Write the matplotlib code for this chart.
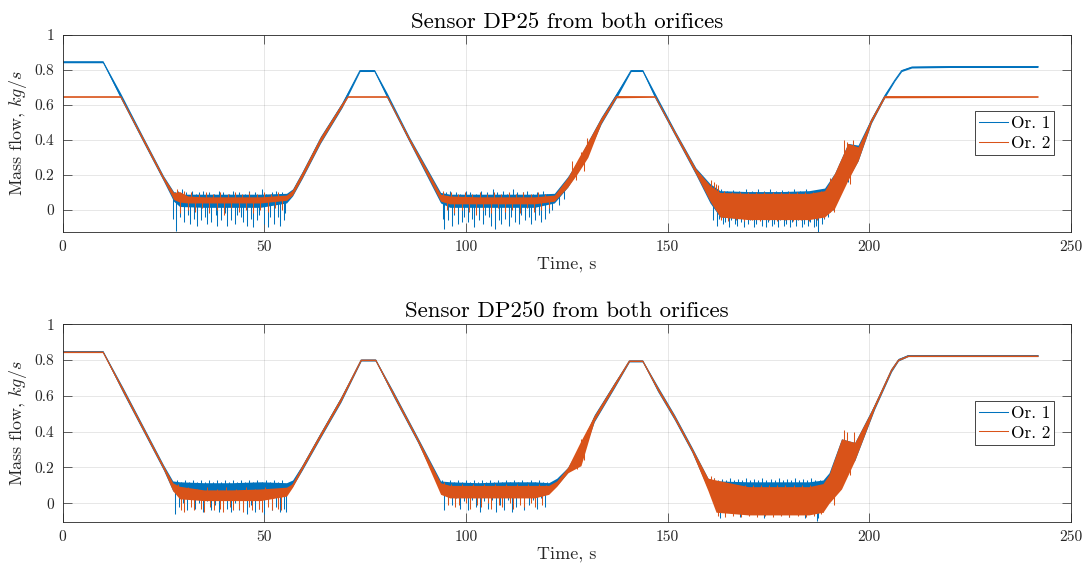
import matplotlib
matplotlib.use("Agg")
import matplotlib.pyplot as plt
import numpy as np

# ---------------- data ----------------
# each series: knot times, centre value, lower / upper edge of the noise band
# top panel: sensor DP25
dp25_or1_t = [0, 10, 14.4, 20, 25, 27.5, 29, 35, 42, 49, 55.5, 57, 59.4, 63.9, 69.3, 73.7, 77.3, 80.5, 86, 93.7,
              96, 103, 110, 117, 121.9, 125.2, 127.7, 130.2, 133.5, 137.2, 140.9, 143.8, 146.9, 152, 157, 160.5,
              163, 170, 178, 185, 188.9, 191.4, 194.7, 197.2, 200.5, 203.8, 206.3, 208, 210.5, 220, 230, 241.8]
dp25_or1_c = [0.845, 0.845, 0.65, 0.40, 0.18, 0.08, 0.06, 0.05, 0.05, 0.05, 0.07, 0.10, 0.20, 0.40, 0.60, 0.795,
              0.795, 0.65, 0.40, 0.07, 0.05, 0.05, 0.05, 0.05, 0.07, 0.16, 0.25, 0.36, 0.51, 0.65, 0.795, 0.795,
              0.65, 0.43, 0.22, 0.09, 0.05, 0.04, 0.04, 0.04, 0.06, 0.12, 0.28, 0.33, 0.51, 0.65, 0.74, 0.795,
              0.815, 0.818, 0.818, 0.818]
dp25_or1_lo = [0.84, 0.84, 0.635, 0.385, 0.165, 0.05, 0.02, 0.015, 0.015, 0.015, 0.04, 0.08, 0.18, 0.38, 0.585,
               0.79, 0.79, 0.635, 0.385, 0.04, 0.015, 0.015, 0.015, 0.015, 0.04, 0.13, 0.22, 0.32, 0.49, 0.635,
               0.79, 0.79, 0.635, 0.415, 0.20, 0.04, -0.04, -0.05, -0.05, -0.05, -0.03, 0.03, 0.18, 0.28, 0.495,
               0.64, 0.735, 0.79, 0.81, 0.813, 0.813, 0.813]
dp25_or1_hi = [0.85, 0.85, 0.665, 0.415, 0.195, 0.105, 0.09, 0.09, 0.09, 0.09, 0.095, 0.12, 0.22, 0.42, 0.615,
               0.80, 0.80, 0.665, 0.415, 0.10, 0.09, 0.09, 0.09, 0.09, 0.095, 0.19, 0.28, 0.39, 0.53, 0.665,
               0.80, 0.80, 0.665, 0.445, 0.24, 0.15, 0.11, 0.105, 0.105, 0.11, 0.125, 0.21, 0.38, 0.37, 0.525,
               0.66, 0.745, 0.80, 0.82, 0.823, 0.823, 0.823]

dp25_or2_t = [0, 14.4, 20, 25, 27.5, 29, 31, 35, 42, 49, 55.5, 57, 59.4, 63.9, 69.3, 70.7, 80.5, 86, 93.7, 96,
              103, 110, 117, 121.9, 125.2, 127.7, 130.2, 133.5, 137.2, 146.9, 152, 157, 160.5, 163, 170, 178, 185,
              188.9, 191.4, 194.7, 197.2, 200.5, 203.8, 241.8]
dp25_or2_c = [0.646, 0.646, 0.40, 0.18, 0.08, 0.07, 0.06, 0.055, 0.055, 0.055, 0.07, 0.10, 0.20, 0.40, 0.60, 0.646,
              0.646, 0.40, 0.07, 0.055, 0.055, 0.055, 0.055, 0.07, 0.16, 0.25, 0.36, 0.51, 0.646, 0.646, 0.43,
              0.22, 0.09, 0.04, 0.02, 0.02, 0.02, 0.05, 0.12, 0.28, 0.32, 0.51, 0.646, 0.646]
dp25_or2_lo = [0.643, 0.643, 0.39, 0.17, 0.06, 0.045, 0.04, 0.04, 0.04, 0.04, 0.055, 0.085, 0.185, 0.385, 0.59,
               0.643, 0.643, 0.39, 0.05, 0.035, 0.035, 0.035, 0.035, 0.05, 0.13, 0.21, 0.30, 0.495, 0.640, 0.643,
               0.42, 0.205, 0.05, -0.04, -0.055, -0.055, -0.055, -0.04, 0.01, 0.17, 0.28, 0.50, 0.640, 0.643]
dp25_or2_hi = [0.649, 0.649, 0.41, 0.19, 0.10, 0.105, 0.08, 0.075, 0.075, 0.075, 0.085, 0.115, 0.215, 0.415, 0.61,
               0.649, 0.649, 0.41, 0.09, 0.08, 0.075, 0.075, 0.075, 0.085, 0.185, 0.29, 0.39, 0.525, 0.652, 0.649,
               0.44, 0.235, 0.14, 0.10, 0.095, 0.095, 0.095, 0.11, 0.21, 0.38, 0.36, 0.52, 0.652, 0.649]

# bottom panel: sensor DP250 (both orifices share the knot times)
dp250_t = [0, 10, 15, 20, 25, 27.3, 29, 35, 42, 49, 55.5, 57, 59.4, 63.9, 69, 74, 77.6, 82, 88, 93.7, 96, 103,
           110, 117, 120.5, 122.5, 125.2, 128.5, 131.8, 136.8, 140.5, 143.8, 147.5, 151.7, 156, 160, 162, 170,
           178, 185, 188.5, 190, 193.1, 196.4, 201.3, 205.5, 207.2, 209.6, 220, 230, 241.8]
dp250_or1_c = [0.847, 0.847, 0.63, 0.415, 0.20, 0.10, 0.08, 0.075, 0.075, 0.075, 0.085, 0.11, 0.20, 0.38, 0.58,
               0.80, 0.80, 0.61, 0.355, 0.10, 0.085, 0.085, 0.085, 0.085, 0.09, 0.12, 0.186, 0.29, 0.475, 0.66,
               0.795, 0.795, 0.64, 0.48, 0.30, 0.12, 0.085, 0.07, 0.07, 0.07, 0.08, 0.11, 0.22, 0.29, 0.54, 0.745,
               0.80, 0.825, 0.825, 0.825, 0.825]
dp250_or1_lo = [0.843, 0.843, 0.615, 0.40, 0.185, 0.07, 0.045, 0.045, 0.045, 0.045, 0.06, 0.095, 0.185, 0.365,
                0.565, 0.795, 0.795, 0.595, 0.34, 0.07, 0.06, 0.06, 0.06, 0.06, 0.065, 0.10, 0.17, 0.25, 0.455,
                0.645, 0.79, 0.79, 0.625, 0.465, 0.285, 0.08, 0.04, 0.03, 0.03, 0.03, 0.0, 0.05, 0.15, 0.24,
                0.525, 0.735, 0.795, 0.82, 0.82, 0.82, 0.82]
dp250_or1_hi = [0.852, 0.852, 0.645, 0.43, 0.215, 0.125, 0.12, 0.115, 0.115, 0.12, 0.115, 0.13, 0.215, 0.395,
                0.595, 0.805, 0.805, 0.625, 0.37, 0.125, 0.12, 0.115, 0.12, 0.12, 0.115, 0.14, 0.20, 0.33, 0.495,
                0.675, 0.80, 0.80, 0.655, 0.495, 0.315, 0.14, 0.125, 0.12, 0.12, 0.12, 0.13, 0.17, 0.36, 0.34,
                0.555, 0.755, 0.81, 0.83, 0.83, 0.83, 0.83]
dp250_or2_c = [0.845, 0.845, 0.63, 0.415, 0.20, 0.10, 0.06, 0.045, 0.045, 0.045, 0.07, 0.10, 0.20, 0.38, 0.58,
               0.80, 0.80, 0.61, 0.355, 0.09, 0.06, 0.06, 0.06, 0.06, 0.075, 0.11, 0.186, 0.27, 0.475, 0.66,
               0.795, 0.795, 0.64, 0.48, 0.30, 0.10, 0.04, 0.015, 0.015, 0.015, 0.04, 0.08, 0.22, 0.29, 0.54, 0.745,
               0.80, 0.823, 0.823, 0.823, 0.823]
dp250_or2_lo = [0.842, 0.842, 0.62, 0.405, 0.19, 0.07, 0.025, 0.015, 0.015, 0.015, 0.04, 0.09, 0.19, 0.37, 0.57,
                0.797, 0.797, 0.60, 0.345, 0.05, 0.03, 0.03, 0.03, 0.03, 0.05, 0.095, 0.17, 0.21, 0.46, 0.65,
                0.792, 0.792, 0.63, 0.47, 0.29, 0.07, -0.05, -0.065, -0.065, -0.065, -0.05, 0.0, 0.08, 0.24,
                0.53, 0.74, 0.797, 0.82, 0.82, 0.82, 0.82]
dp250_or2_hi = [0.848, 0.848, 0.64, 0.425, 0.21, 0.115, 0.095, 0.075, 0.075, 0.08, 0.09, 0.11, 0.21, 0.39, 0.59,
                0.803, 0.803, 0.62, 0.365, 0.115, 0.10, 0.10, 0.10, 0.10, 0.10, 0.125, 0.20, 0.35, 0.49, 0.67,
                0.798, 0.798, 0.65, 0.49, 0.31, 0.14, 0.13, 0.093, 0.093, 0.093, 0.11, 0.16, 0.36, 0.34, 0.55,
                0.75, 0.803, 0.826, 0.826, 0.826, 0.826]

# visible spikes poking out of the noise bands: (time, tip value)
dp25_or1_spikes = [
    (27.3, -0.05), (27.8, 0.10), (28.1, -0.12), (28.6, 0.11), (29.0, -0.04), (29.5, 0.12), (30.0, -0.07),
    (30.6, 0.10), (31.1, -0.03), (31.5, -0.08), (32.0, 0.11), (32.5, -0.05), (33.0, 0.09), (33.4, -0.09),
    (33.9, 0.10), (34.4, -0.06), (34.9, 0.11), (35.4, -0.04), (35.9, -0.08), (36.4, 0.10), (36.9, -0.07),
    (37.4, 0.09), (37.9, -0.03), (38.3, -0.09), (38.8, 0.11), (39.3, -0.06), (39.8, 0.10), (40.3, -0.02),
    (40.8, -0.09), (41.3, 0.09), (41.8, -0.06), (42.3, 0.11), (42.8, -0.08), (43.3, -0.03), (43.8, 0.10),
    (44.3, -0.04), (44.8, -0.07), (45.3, 0.09), (45.8, -0.09), (46.3, 0.11), (46.8, -0.05), (47.3, -0.10),
    (47.8, 0.10), (48.3, -0.06), (48.8, -0.03), (49.3, 0.12), (49.8, -0.08), (50.3, 0.09), (50.8, -0.10),
    (51.3, -0.04), (51.8, 0.10), (52.3, -0.08), (52.8, 0.11), (53.3, -0.04), (53.8, -0.09), (54.3, 0.10),
    (54.8, -0.06), (55.2, -0.02),
    (94.2, -0.05), (94.6, -0.11), (95.1, 0.10), (95.6, -0.06), (96.1, 0.11), (96.6, -0.09), (97.1, -0.03),
    (97.6, 0.10), (98.1, -0.08), (98.6, 0.09), (99.1, -0.07), (99.6, -0.04), (100.1, 0.11), (100.6, -0.07),
    (101.1, 0.10), (101.6, -0.05), (102.1, -0.10), (102.6, 0.09), (103.1, -0.06), (103.6, 0.11),
    (104.1, -0.08), (104.6, -0.03), (105.1, 0.10), (105.6, -0.04), (106.1, -0.09), (106.6, 0.12),
    (107.1, -0.11), (107.6, 0.10), (108.1, -0.06), (108.6, -0.08), (109.1, 0.11), (109.6, -0.05),
    (110.1, 0.09), (110.6, -0.09), (111.1, -0.04), (111.6, 0.12), (112.1, -0.07), (112.6, 0.10),
    (113.1, -0.08), (113.6, -0.03), (114.1, 0.10), (114.6, -0.06), (115.1, 0.11), (115.6, -0.04),
    (116.1, -0.08), (116.6, 0.09), (117.1, -0.06), (117.6, 0.10), (118.1, -0.03), (118.6, -0.07),
    (119.1, 0.11), (119.6, -0.05), (120.1, 0.09), (120.6, -0.02), (121.3, 0.0), (123.0, 0.03), (124.2, 0.06),
    (161.3, -0.06), (161.8, 0.12), (162.3, -0.09), (162.8, -0.05), (163.3, 0.12), (163.8, -0.08),
    (164.3, -0.07), (164.8, 0.11), (165.3, -0.10), (165.8, -0.06), (166.3, 0.115), (166.8, -0.08),
    (167.3, -0.09), (167.8, 0.11), (168.3, -0.07), (168.8, -0.10), (169.3, 0.12), (169.8, -0.08),
    (170.3, -0.06), (170.8, 0.11), (171.3, -0.10), (171.8, -0.08), (172.3, 0.12), (172.8, -0.06),
    (173.3, -0.09), (173.8, 0.11), (174.3, -0.10), (174.8, -0.07), (175.3, 0.12), (175.8, -0.09),
    (176.3, -0.08), (176.8, 0.11), (177.3, -0.10), (177.8, -0.06), (178.3, 0.115), (178.8, -0.09),
    (179.3, -0.08), (179.8, 0.11), (180.3, -0.10), (180.8, -0.07), (181.3, 0.12), (181.8, -0.09),
    (182.3, -0.06), (182.8, 0.11), (183.3, -0.10), (183.8, -0.08), (184.3, 0.12), (184.8, -0.09),
    (185.3, -0.07), (185.8, 0.11), (186.3, -0.10), (186.8, -0.09), (187.2, -0.124), (187.7, 0.11),
    (188.2, -0.08), (188.7, -0.05), (189.2, 0.13), (189.7, -0.04), (190.3, -0.01), (191.0, 0.0),
    (192.2, 0.07), (193.0, 0.10), (194.6, 0.16)]
dp25_or2_spikes = [
    (28.3, 0.12), (29.2, -0.02), (30.1, 0.11), (31.0, 0.0), (31.9, 0.10), (32.8, -0.01), (33.7, 0.09),
    (34.6, 0.01), (35.5, 0.10), (36.4, -0.02), (37.3, 0.09), (38.2, 0.0), (39.1, 0.10), (40.0, -0.03),
    (40.9, 0.09), (41.8, 0.01), (42.7, 0.10), (43.6, -0.01), (44.5, 0.09), (45.4, 0.0), (46.3, 0.10),
    (47.2, -0.02), (48.1, 0.09), (49.0, 0.0), (49.9, 0.10), (50.8, -0.01), (51.7, 0.09), (52.6, 0.01),
    (53.5, 0.10), (54.4, 0.0),
    (94.4, 0.11), (95.3, 0.0), (96.2, 0.10), (97.1, -0.02), (98.0, 0.09), (98.9, 0.0), (99.8, 0.10),
    (100.7, -0.01), (101.6, 0.09), (102.5, -0.03), (103.4, 0.10), (104.3, 0.0), (105.2, 0.09),
    (106.1, -0.02), (107.0, 0.10), (107.9, 0.01), (108.8, 0.09), (109.7, -0.01), (110.6, 0.10),
    (111.5, 0.0), (112.4, 0.09), (113.3, -0.02), (114.2, 0.10), (115.1, 0.01), (116.0, 0.09),
    (116.9, -0.01), (117.8, 0.10), (118.7, 0.0), (119.6, 0.09), (120.5, 0.01),
    (126.4, 0.28), (127.3, 0.17), (128.4, 0.33), (129.3, 0.22), (130.0, 0.41),
    (160.8, 0.17), (161.4, 0.16), (162.0, 0.15), (162.6, 0.14), (163.2, -0.06), (164.0, 0.11),
    (165.0, -0.065), (166.0, 0.10), (167.0, -0.06), (168.0, 0.105), (169.0, -0.065), (170.0, 0.10),
    (171.0, -0.06), (172.0, 0.105), (173.0, -0.065), (174.0, 0.10), (175.0, -0.06), (176.0, 0.105),
    (177.0, -0.065), (178.0, 0.10), (179.0, -0.06), (180.0, 0.105), (181.0, -0.065), (182.0, 0.10),
    (183.0, -0.06), (184.0, 0.105), (185.0, -0.065), (186.0, 0.10), (187.0, -0.06), (188.0, 0.11),
    (188.8, -0.045), (190.2, 0.18), (191.2, -0.01), (192.5, 0.26), (193.8, 0.40), (194.4, 0.39),
    (195.2, 0.15), (196.0, 0.40)]
dp250_or1_spikes = [
    (27.8, -0.06), (28.3, 0.13), (28.8, -0.02), (29.3, 0.12), (29.8, 0.0), (30.3, 0.13), (30.8, -0.04),
    (31.3, 0.12), (31.8, 0.01), (32.3, 0.13), (32.8, -0.03), (33.3, 0.12), (33.8, 0.0), (34.3, 0.13),
    (34.8, -0.05), (35.3, 0.12), (35.8, 0.01), (36.3, 0.13), (36.8, -0.04), (37.3, 0.12), (37.8, -0.01),
    (38.3, 0.13), (38.8, -0.05), (39.3, 0.12), (39.8, 0.0), (40.3, 0.13), (40.8, -0.03), (41.3, 0.12),
    (41.8, -0.05), (42.3, 0.13), (42.8, 0.0), (43.3, 0.12), (43.8, -0.04), (44.3, 0.13), (44.8, -0.02),
    (45.3, 0.12), (45.8, -0.06), (46.3, 0.13), (46.8, -0.01), (47.3, 0.12), (47.8, -0.05), (48.3, 0.13),
    (48.8, -0.03), (49.3, 0.12), (49.8, -0.06), (50.3, 0.13), (50.8, 0.0), (51.3, 0.12), (51.8, -0.04),
    (52.3, 0.13), (52.8, -0.02), (53.3, 0.12), (53.8, -0.05), (54.3, 0.13), (54.8, -0.03), (55.3, -0.05),
    (94.0, 0.13), (94.5, -0.04), (95.0, 0.12), (95.5, 0.02), (96.0, 0.13), (96.5, -0.01), (97.0, 0.12),
    (97.5, 0.03), (98.0, 0.13), (98.5, -0.03), (99.0, 0.12), (99.5, 0.01), (100.0, 0.13), (100.5, -0.04),
    (101.0, 0.12), (101.5, 0.02), (102.0, 0.13), (102.5, -0.02), (103.0, 0.12), (103.5, -0.05),
    (104.0, 0.13), (104.5, 0.01), (105.0, 0.12), (105.5, -0.03), (106.0, 0.13), (106.5, 0.02),
    (107.0, 0.12), (107.5, -0.05), (108.0, 0.13), (108.5, -0.01), (109.0, 0.12), (109.5, -0.04),
    (110.0, 0.13), (110.5, 0.02), (111.0, 0.12), (111.5, -0.05), (112.0, 0.13), (112.5, -0.02),
    (113.0, 0.12), (113.5, 0.01), (114.0, 0.13), (114.5, -0.04), (115.0, 0.12), (115.5, -0.01),
    (116.0, 0.13), (116.5, 0.02), (117.0, 0.12), (117.5, -0.03), (118.0, 0.13), (118.5, 0.03),
    (119.0, 0.12), (119.5, -0.02), (120.0, 0.12),
    (161.5, 0.14), (162.5, 0.13), (163.5, 0.135), (164.5, 0.13), (165.5, 0.14), (166.5, 0.13),
    (167.5, 0.135), (168.5, 0.13), (169.5, 0.14), (170.5, 0.13), (171.5, 0.135), (172.5, 0.13),
    (173.5, 0.14), (174.5, 0.13), (175.5, 0.135), (176.5, 0.13), (177.5, 0.14), (178.5, 0.13),
    (179.5, 0.135), (180.5, 0.13), (181.5, 0.14), (182.5, 0.13), (183.5, 0.135), (184.5, 0.13),
    (185.5, 0.14), (186.5, 0.13), (186.9, -0.10), (187.3, -0.08), (187.8, 0.13), (163.0, -0.08),
    (168.0, -0.075), (174.0, -0.08), (180.0, -0.075), (184.0, -0.08)]
dp250_or2_spikes = [
    (28.6, 0.11), (29.4, -0.04), (30.2, -0.05), (31.0, 0.09), (31.8, -0.02), (32.6, -0.04), (33.4, 0.08),
    (34.2, -0.03), (35.0, -0.05), (35.8, 0.09), (36.6, -0.02), (37.4, -0.04), (38.2, 0.08), (39.0, -0.03),
    (39.8, -0.05), (40.6, 0.09), (41.4, -0.02), (42.2, -0.04), (43.0, 0.08), (43.8, -0.03), (44.6, -0.05),
    (45.4, 0.09), (46.2, -0.02), (47.0, -0.04), (47.8, 0.08), (48.6, -0.03), (49.4, -0.05), (50.2, 0.09),
    (51.0, -0.02), (51.8, -0.04), (52.6, 0.08), (53.4, -0.03), (54.2, -0.04),
    (94.6, 0.12), (95.5, -0.01), (96.4, 0.11), (97.3, -0.02), (98.2, -0.01), (99.1, 0.11), (100.0, 0.0),
    (100.9, -0.03), (101.8, 0.11), (102.7, -0.01), (103.6, -0.02), (104.5, 0.11), (105.4, 0.0),
    (106.3, -0.03), (107.2, 0.11), (108.1, -0.01), (109.0, -0.02), (109.9, 0.11), (110.8, 0.0),
    (111.7, -0.03), (112.6, 0.11), (113.5, -0.01), (114.4, -0.02), (115.3, 0.11), (116.2, 0.0),
    (117.1, -0.02), (118.0, 0.11), (118.9, -0.01), (119.8, 0.10),
    (126.8, 0.26), (127.6, 0.19), (128.4, 0.36), (129.2, 0.24), (130.0, 0.41),
    (160.8, 0.15), (161.6, 0.14), (162.4, -0.07), (163.2, 0.12), (164.2, -0.075), (165.2, 0.10),
    (166.2, -0.07), (167.2, 0.10), (168.2, -0.075), (169.2, 0.10), (170.2, -0.07), (171.2, 0.10),
    (172.2, -0.075), (173.2, 0.10), (174.2, -0.07), (175.2, 0.10), (176.2, -0.075), (177.2, 0.10),
    (178.2, -0.07), (179.2, 0.10), (180.2, -0.075), (181.2, 0.10), (182.2, -0.07), (183.2, 0.10),
    (184.2, -0.075), (185.2, 0.10), (186.2, -0.07), (187.2, 0.10), (188.0, -0.06), (188.6, -0.05),
    (190.4, 0.17), (191.3, -0.01), (192.6, 0.27), (193.6, 0.41), (194.4, 0.40), (195.3, 0.16), (196.1, 0.40)]

titles = ["Sensor DP25 from both orifices", "Sensor DP250 from both orifices"]
legend_labels = ["Or. 1", "Or. 2"]
xticks = [0, 50, 100, 150, 200, 250]
yticks = [0, 0.2, 0.4, 0.6, 0.8, 1]
ytick_labels = ["0", "0.2", "0.4", "0.6", "0.8", "1"]

# ---------------- style ----------------
plt.rcParams['font.family'] = 'serif'
plt.rcParams['font.serif'] = ['cmr10']
plt.rcParams['mathtext.fontset'] = 'cm'
plt.rcParams['axes.formatter.use_mathtext'] = True

blue = '#0072BD'
orange = '#D95319'
dark = '#262626'

fig = plt.figure(figsize=(10.86, 5.70), dpi=100)
ax_top = fig.add_axes([0.0577, 0.5935, 0.9285, 0.3456])
ax_bot = fig.add_axes([0.0577, 0.0847, 0.9285, 0.3463])


def draw_series(ax, t, c, lo, hi, spikes, color, label, z):
    # band, spikes and centre line of one series share a z-level so the
    # later series covers the earlier one completely
    ax.fill_between(t, lo, hi, color=color, lw=0, zorder=z)
    spk_t = [s[0] for s in spikes]
    spk_v = [s[1] for s in spikes]
    base = np.interp(spk_t, t, c)
    ax.vlines(spk_t, spk_v, base, color=color, lw=0.75, zorder=z + 0.1)
    ax.plot(t, c, color=color, lw=0.75, label=label, zorder=z + 0.2)


draw_series(ax_top, dp25_or1_t, dp25_or1_c, dp25_or1_lo, dp25_or1_hi, dp25_or1_spikes, blue, legend_labels[0], 2)
draw_series(ax_top, dp25_or2_t, dp25_or2_c, dp25_or2_lo, dp25_or2_hi, dp25_or2_spikes, orange, legend_labels[1], 3)
draw_series(ax_bot, dp250_t, dp250_or1_c, dp250_or1_lo, dp250_or1_hi, dp250_or1_spikes, blue, legend_labels[0], 2)
draw_series(ax_bot, dp250_t, dp250_or2_c, dp250_or2_lo, dp250_or2_hi, dp250_or2_spikes, orange, legend_labels[1], 3)

ylims = [(-0.124, 1), (-0.103, 1)]
for ax, title, yl in zip([ax_top, ax_bot], titles, ylims):
    ax.set_xlim(0, 250)
    ax.set_ylim(*yl)
    ax.set_xticks(xticks, labels=[str(v) for v in xticks])
    ax.set_yticks(yticks, labels=ytick_labels)
    ax.tick_params(direction='in', top=True, right=True, length=6.5, width=0.5, colors=dark,
                   labelsize=11.2, pad=6)
    ax.grid(True, color=dark, alpha=0.13, lw=0.6)
    ax.set_axisbelow(True)
    for sp in ax.spines.values():
        sp.set_color(dark)
        sp.set_linewidth(0.6)
        sp.set_zorder(5)
    ax.set_title(title, fontsize=16.5, color='black', pad=5)
    ax.set_xlabel("Time, s", fontsize=13, color=dark, labelpad=2)
    ax.set_ylabel(r"Mass flow, $kg/s$", fontsize=13, color=dark, labelpad=4)
    leg = ax.legend(loc='center right', bbox_to_anchor=(0.9835, 0.5), fontsize=12.4, fancybox=False,
                    framealpha=1, edgecolor=dark, handlelength=1.7, handletextpad=0.15, borderpad=0.25,
                    labelspacing=0.25, borderaxespad=0)
    leg.get_frame().set_linewidth(0.6)
    leg.set_zorder(10)

fig.savefig("out.png", dpi=100)
